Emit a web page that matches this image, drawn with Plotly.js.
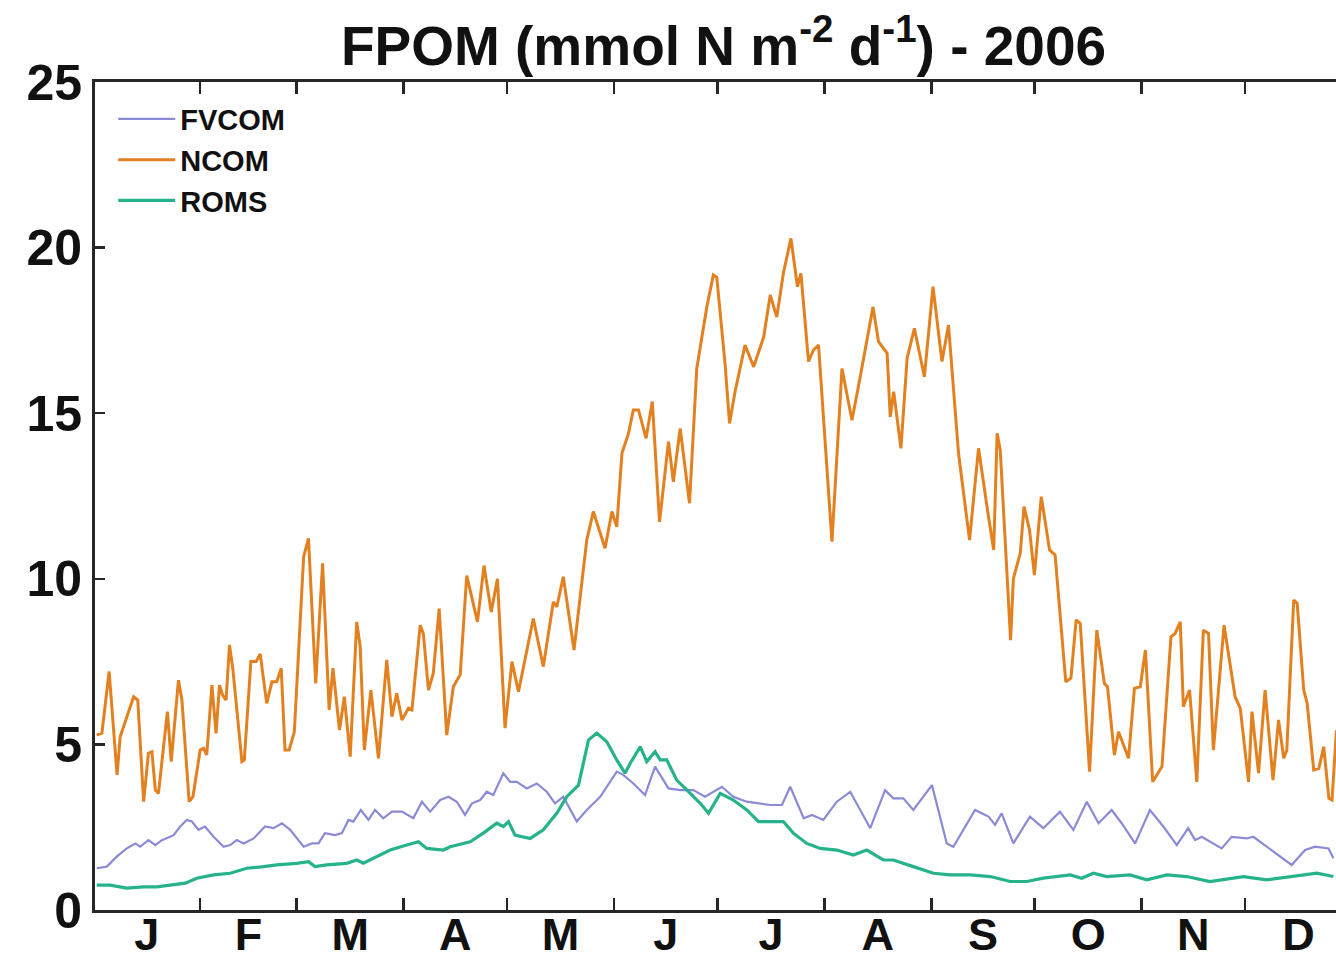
<!DOCTYPE html>
<html>
<head>
<meta charset="utf-8">
<script src="https://cdn.plot.ly/plotly-3.0.1.min.js"></script>
<style>
html,body{margin:0;padding:0;overflow:hidden;background:#fff;}
#chart{width:1400px;height:961px;}
</style>
</head>
<body>
<div id="chart"></div>
<script>
// Day of year 2006 (1 = Jan 1) and values, mmol N m-2 d-1
var seriesNames = ["FVCOM", "NCOM", "ROMS"];
var seriesColors = ["#8b8ad6", "#e3801f", "#26b38b"];

var ncomDay = [
 2.0,3.5,5.6,7.9,8.8,12.7,13.9,15.6,17.0,18.0,
 19.0,19.9,22.5,23.6,25.7,26.7,28.8,29.9,32.0,33.0,
 33.9,35.4,36.6,37.6,38.5,39.5,40.5,41.5,44.1,44.8,
 46.7,48.2,49.4,51.3,52.8,54.2,55.5,56.6,57.8,59.3,
 62.0,63.4,65.5,67.5,69.4,70.5,72.4,73.8,75.5,77.4,
 78.4,79.6,81.5,83.7,86.1,87.6,89.0,90.5,92.4,93.4,
 95.8,96.7,98.2,99.6,101.3,103.5,105.4,107.4,109.3,112.4,
 114.3,116.4,118.2,120.4,122.4,124.3,128.6,131.5,134.4,135.4,
 137.3,140.4,144.1,146.0,149.4,151.4,152.8,154.3,156.2,157.6,
 159.1,161.3,163.1,165.2,167.8,169.2,171.2,173.9,176.0,178.9,
 180.8,181.8,184.2,185.5,187.1,190.0,192.5,195.4,197.3,199.2,
 201.1,203.3,205.2,206.2,208.4,209.8,211.3,215.2,218.1,221.0,
 223.4,227.1,228.7,231.2,232.1,233.1,235.2,237.0,239.1,242.0,
 244.5,247.1,249.0,251.9,255.1,257.7,260.3,262.1,263.1,264.0,
 267.0,267.8,269.8,270.9,272.5,273.9,275.9,278.3,279.9,283.0,
 284.5,286.0,287.2,289.9,292.0,294.2,295.1,297.1,298.3,301.2,
 302.9,304.6,306.1,308.2,310.9,313.5,314.7,316.2,317.1,318.9,
 321.0,322.9,324.4,325.8,328.9,332.1,333.6,336.0,337.0,338.9,
 340.8,343.1,344.7,346.2,347.1,349.1,350.1,352.0,353.0,354.9,
 356.4,357.8,359.3,360.2,361.5
];
var ncomVal = [
 5.28,5.34,7.2,4.08,5.23,6.44,6.34,3.27,4.73,4.78,
 3.62,3.52,5.99,4.48,6.94,6.34,3.27,3.42,4.83,4.88,
 4.68,6.79,5.33,6.79,6.49,6.34,8.0,7.25,4.48,4.53,
 7.5,7.5,7.73,6.24,6.89,6.89,7.3,4.83,4.83,5.38,
 10.67,11.22,6.84,10.47,6.04,7.3,5.43,6.44,4.63,8.7,
 7.95,4.83,6.64,4.58,7.55,5.84,6.54,5.74,6.09,6.04,
 8.6,8.35,6.64,7.15,9.1,5.28,6.74,7.1,10.1,8.7,
 10.4,9.0,10.0,5.49,7.5,6.59,8.8,7.35,9.3,9.15,
 10.06,7.85,11.17,12.03,10.92,12.03,11.57,13.79,14.39,15.1,
 15.1,14.24,15.35,11.72,14.14,12.93,14.54,12.28,16.35,18.2,
 19.17,19.1,16.5,14.69,15.65,17.06,16.4,17.3,18.57,17.9,
 19.22,20.28,18.82,19.22,16.56,16.9,17.06,11.12,16.35,14.79,
 16.1,18.21,17.16,16.81,14.89,15.65,13.94,16.66,17.56,16.1,
 18.82,16.56,17.66,13.79,11.17,13.94,12.08,10.87,14.39,13.89,
 8.15,10.0,10.77,12.18,11.47,10.11,12.48,10.87,10.72,6.89,
 7.0,8.76,8.65,4.18,8.45,6.84,6.74,4.68,5.38,4.58,
 6.69,6.74,7.85,3.87,4.33,8.25,8.35,8.7,6.14,6.64,
 3.87,8.45,8.35,4.83,8.6,6.44,6.09,3.87,5.99,4.13,
 6.64,3.92,5.74,4.58,4.83,9.36,9.26,6.64,6.24,4.23,
 4.28,4.93,3.37,3.32,5.43
];

var fvcomDay = [
 2.0,4.9,7.8,10.7,13.2,14.6,17.0,19.0,20.9,24.3,
 26.2,28.1,29.6,31.5,33.4,35.9,38.8,40.7,42.6,44.6,
 47.5,50.8,53.3,55.7,58.1,62.0,64.4,66.3,68.2,71.1,
 73.1,75.0,76.4,78.6,80.8,82.7,85.1,87.6,90.5,93.8,
 96.3,98.7,101.6,104.0,106.4,108.8,110.8,113.2,115.1,117.0,
 119.9,121.9,123.8,126.7,129.6,132.5,134.9,137.3,141.2,144.1,
 148.0,152.8,154.7,157.6,161.0,163.9,167.8,171.2,175.0,178.4,
 183.3,186.6,190.5,193.9,197.3,200.7,203.1,207.0,209.4,212.7,
 216.6,220.5,226.3,230.6,233.0,235.9,238.8,244.2,248.5,250.4,
 256.7,260.6,262.5,264.4,267.8,272.6,276.5,281.3,285.2,289.1,
 292.5,296.3,299.2,303.1,307.4,311.3,315.2,318.5,320.5,322.4,
 328.2,331.1,335.5,337.4,341.3,348.5,352.4,355.3,359.2,360.6
];
var fvcomVal = [
 1.26,1.31,1.61,1.86,2.01,1.91,2.11,1.96,2.11,2.26,
 2.52,2.72,2.67,2.42,2.52,2.21,1.91,1.96,2.11,2.01,
 2.16,2.52,2.47,2.62,2.42,1.91,2.01,2.01,2.32,2.26,
 2.32,2.72,2.67,3.02,2.72,3.02,2.77,2.97,2.97,2.77,
 3.27,2.97,3.32,3.42,3.27,2.87,3.22,3.32,3.57,3.47,
 4.13,3.87,3.87,3.67,3.82,3.57,3.22,3.42,2.67,3.02,
 3.42,4.18,4.08,3.82,3.47,4.33,3.67,3.62,3.62,3.42,
 3.72,3.42,3.27,3.22,3.17,3.17,3.72,2.77,2.87,2.72,
 3.27,3.57,2.47,3.62,3.37,3.37,3.02,3.77,2.01,1.91,
 3.02,2.82,2.57,2.92,2.01,2.82,2.47,2.97,2.42,3.27,
 2.62,3.02,2.62,2.01,3.02,2.52,1.96,2.47,2.11,2.21,
 1.86,2.21,2.16,2.21,1.91,1.36,1.81,1.91,1.86,1.56
];

var romsDay = [
 2.0,5.9,10.7,15.6,19.4,23.3,27.7,31.0,35.9,40.7,
 45.5,50.4,54.2,60.0,63.4,65.3,68.7,74.5,77.4,79.3,
 83.2,87.1,91.9,95.3,97.7,102.5,104.5,110.3,114.1,118.0,
 119.9,121.4,123.3,127.7,131.5,135.4,138.3,141.7,144.6,147.0,
 149.9,152.8,155.2,156.7,159.6,161.5,163.9,165.4,167.3,170.2,
 174.1,177.0,179.4,182.8,186.6,190.5,193.9,198.2,201.1,204.0,
 207.9,211.8,216.6,221.4,225.3,230.1,233.0,238.8,244.6,249.5,
 255.3,261.1,266.9,271.7,276.5,284.3,287.6,291.0,294.9,301.6,
 306.5,312.3,318.1,324.8,334.5,341.3,348.0,355.8,360.6
];
var romsVal = [
 0.75,0.75,0.66,0.70,0.70,0.75,0.81,0.96,1.06,1.11,
 1.26,1.31,1.36,1.41,1.46,1.31,1.36,1.41,1.51,1.41,
 1.61,1.81,1.96,2.06,1.86,1.81,1.91,2.06,2.32,2.62,
 2.52,2.67,2.26,2.16,2.42,2.92,3.42,3.77,5.13,5.34,
 5.08,4.53,4.13,4.43,4.93,4.48,4.78,4.53,4.53,3.92,
 3.52,3.22,2.92,3.52,3.32,3.02,2.67,2.67,2.67,2.32,
 2.01,1.86,1.81,1.66,1.81,1.51,1.51,1.31,1.11,1.06,
 1.06,1.01,0.86,0.86,0.96,1.06,0.96,1.11,1.01,1.06,
 0.91,1.06,1.01,0.86,1.01,0.91,1.01,1.11,1.01
];

// Axis definitions
var monthBounds = [1,32,60,91,121,152,182,213,244,274,305,335,366];
var monthLetters = ["J","F","M","A","M","J","J","A","S","O","N","D"];
var yTicks = [0,5,10,15,20,25];
var xRange = [1.5, 366];
var yRange = [0, 25];

var monthMid = [];
for (var i = 0; i < monthLetters.length; i++) {
  monthMid.push((monthBounds[i] + monthBounds[i+1]) / 2);
}
var monthTicks = monthBounds.slice(1, monthBounds.length - 1);

var FONT = "Liberation Sans, Arial, Helvetica, sans-serif";
var AX = "#262626";

var xs = [fvcomDay, ncomDay, romsDay];
var ys = [fvcomVal, ncomVal, romsVal];
var widths = [2.2, 3.0, 3.2];
var traces = [];
for (var k = 0; k < 3; k++) {
  traces.push({
    type: "scatter", mode: "lines",
    x: xs[k], y: ys[k], name: seriesNames[k],
    line: {color: seriesColors[k], width: widths[k]},
    hoverinfo: "skip"
  });
}
traces.push({type: "scatter", mode: "lines", x: [xRange[0]], y: [null], xaxis: "x2", yaxis: "y", showlegend: false, hoverinfo: "skip"});

var layout = {
  width: 1400, height: 961,
  margin: {l: 95, r: 48, t: 82, b: 51, pad: 0},
  paper_bgcolor: "#ffffff", plot_bgcolor: "#ffffff",
  font: {family: FONT, color: "#111111"},
  title: {
    text: "FPOM (mmol N m<sup>-2</sup> d<sup>-1</sup>) - 2006",
    font: {family: FONT, size: 55, weight: "bold", color: "#111111"},
    x: 0.5, xref: "paper", xanchor: "center",
    y: 0.952, yref: "container", yanchor: "middle"
  },
  showlegend: true,
  legend: {
    x: 0.0145, y: 0.986, xanchor: "left", yanchor: "top",
    bgcolor: "rgba(0,0,0,0)", borderwidth: 0,
    font: {family: FONT, size: 29, weight: "bold", color: "#111111"},
    tracegroupgap: 0, itemwidth: 57
  },
  xaxis: {
    range: xRange, tickmode: "array", tickvals: monthMid, ticktext: monthLetters,
    ticks: "", showline: false, showgrid: false, zeroline: false,
    ticklabelstandoff: -6,
    tickfont: {family: FONT, size: 45, weight: "bold", color: "#111111"}
  },
  xaxis2: {
    overlaying: "x", anchor: "y", side: "bottom", range: xRange,
    tickmode: "array", tickvals: monthTicks,
    ticks: "inside", ticklen: 12, tickwidth: 2.5, tickcolor: AX,
    showline: true, linewidth: 3, linecolor: AX, mirror: "ticks",
    showticklabels: false, showgrid: false, zeroline: false
  },
  yaxis: {
    range: yRange, tickmode: "array", tickvals: yTicks,
    ticks: "inside", ticklen: 10, tickwidth: 2.5, tickcolor: AX,
    showline: true, linewidth: 3, linecolor: AX, mirror: "ticks",
    showgrid: false, zeroline: false,
    tickfont: {family: FONT, size: 50, weight: "bold", color: "#111111"}
  }
};

Plotly.newPlot("chart", traces, layout, {displayModeBar: false, staticPlot: true});
</script>
</body>
</html>
